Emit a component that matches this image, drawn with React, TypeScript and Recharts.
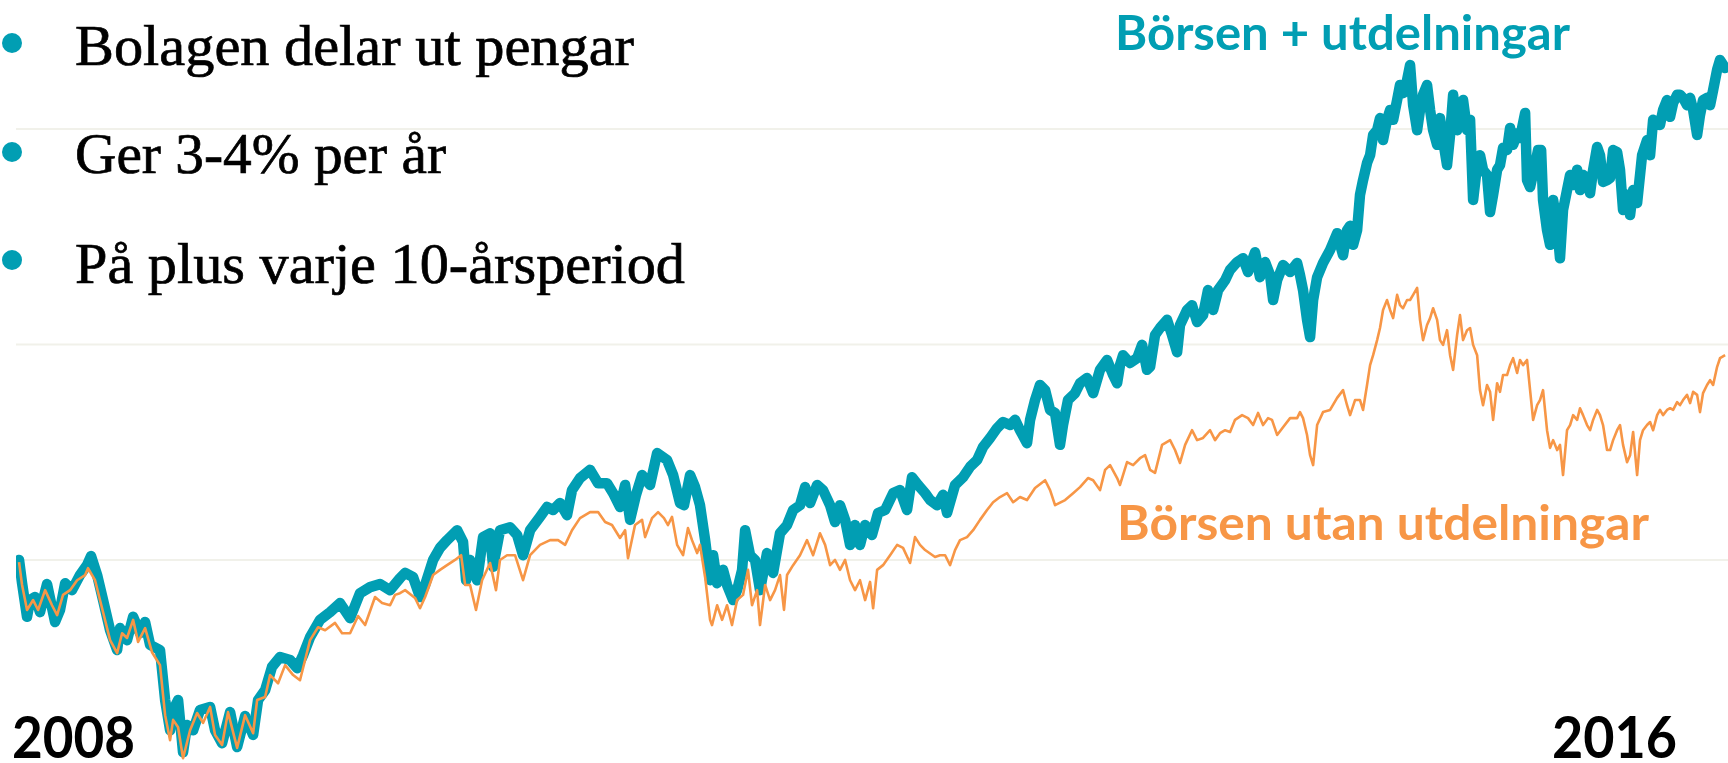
import { LineChart, Line, XAxis, YAxis, CartesianGrid } from "recharts";

// x: months since Jan 2008, y: index (start = 100)
const tealMonths = [
  0, 0.19, 0.5, 0.69, 1, 1.31, 1.75, 2.25, 2.56, 2.88, 3.31, 3.81, 4.25, 4.5, 4.88, 5.25, 5.69, 6.13, 6.31, 6.75,
  7.13, 7.56, 7.88, 8.19, 8.81, 9.13, 9.44, 9.63, 9.94, 10.25, 10.5, 10.88, 11.31, 11.94, 12.25, 12.69, 13.19, 13.63,
  14.13, 14.63, 14.94, 15.38, 15.81, 16.31, 16.94, 17.38, 17.75, 18.19, 18.81, 19.44, 20.06, 20.69, 21.31, 21.94,
  22.56, 23.19, 23.81, 24.13, 24.63, 25.06, 25.38, 25.88, 26.31, 26.75, 27.38, 27.75, 27.94, 28.19, 28.63, 29.0,
  29.44, 29.63, 30.06, 30.69, 31.13, 31.5, 31.94, 32.56, 33.0, 33.38, 33.81, 34.25, 34.56, 35.06, 35.69, 36.19,
  36.75, 37.13, 37.56, 37.88, 38.19, 38.56, 38.94, 39.44, 39.88, 40.5, 40.88, 41.31, 41.56, 41.94, 42.25, 42.56,
  42.88, 43.19, 43.38, 43.63, 44.0, 44.25, 44.63, 44.88, 45.19, 45.38, 45.69, 46.0, 46.31, 46.75, 47.13, 47.56,
  48.0, 48.38, 48.81, 49.13, 49.44, 49.88, 50.25, 50.69, 51.0, 51.31, 51.63, 51.94, 52.25, 52.56, 52.88, 53.31,
  53.69, 54.13, 54.63, 55.06, 55.5, 55.81, 56.19, 56.63, 56.94, 57.38, 57.75, 58.0, 58.5, 59.0, 59.44, 59.88,
  60.25, 60.69, 61.13, 61.5, 61.94, 62.25, 62.56, 63.0, 63.19, 63.5, 63.81, 64.13, 64.44, 64.75, 65.06, 65.25,
  65.56, 66.0, 66.31, 66.75, 67.13, 67.56, 68.0, 68.38, 68.63, 68.81, 69.0, 69.44, 69.88, 70.19, 70.5, 70.69,
  71.0, 71.31, 71.75, 72.06, 72.38, 72.56, 73.0, 73.31, 73.63, 74.0, 74.31, 74.63, 74.94, 75.38, 75.69, 76.13,
  76.5, 76.81, 77.25, 77.56, 77.88, 78.19, 78.38, 78.63, 79.0, 79.44, 79.88, 80.06, 80.25, 80.5, 80.69, 80.88,
  81.13, 81.5, 81.94, 82.38, 82.75, 83.0, 83.19, 83.38, 83.63, 83.81, 84.0, 84.25, 84.44, 84.63, 84.88, 85.06,
  85.25, 85.5, 85.69, 85.88, 86.13, 86.31, 86.5, 86.75, 86.94, 87.13, 87.38, 87.56, 87.75, 88.0, 88.19, 88.38,
  88.63, 88.81, 89.0, 89.25, 89.44, 89.63, 89.88, 90.06, 90.25, 90.5, 90.69, 90.88, 91.13, 91.31, 91.5, 91.75,
  91.94, 92.13, 92.38, 92.56, 92.75, 93.0, 93.19, 93.38, 93.63, 93.81, 94.13, 94.25, 94.44, 94.75, 94.94, 95.13,
  95.25, 95.5, 95.69, 95.88, 96.13, 96.31, 96.5, 96.75, 96.94, 97.13, 97.38, 97.56, 97.75, 98.0, 98.19, 98.38,
  98.63, 98.81, 99.0, 99.25, 99.44, 99.63, 99.88, 100.06, 100.25, 100.5, 100.69, 100.88, 101.13, 101.44, 101.75,
  101.94, 102.13, 102.38, 102.56, 102.75, 103.0, 103.19, 103.38, 103.63, 103.81, 104.0, 104.25, 104.44, 104.63,
  104.88, 105.06, 105.25, 105.5, 105.69, 105.88, 106.13, 106.31, 106.63,
];

const tealValues = [
  100.0, 94.6, 86.8, 90.7, 91.4, 87.9, 94.4, 85.6, 88.4, 94.6, 93.0, 96.5, 98.8, 100.9, 96.5, 90.7, 83.7, 79.1, 84.2, 81.4,
  86.8, 83.0, 85.6, 80.3, 79.1, 67.5, 60.5, 65.2, 67.5, 55.4, 61.7, 60.5, 65.2, 65.9, 60.5, 57.5, 64.7, 56.6,
  63.8, 59.4, 67.5, 69.8, 75.2, 77.5, 76.8, 74.9, 77.9, 82.1, 86.1, 87.9, 90.0, 86.5, 92.3, 93.7,
  94.4, 93.0, 95.8, 97.0, 96.0, 91.4, 94.2, 100.0, 102.8, 104.6, 106.9, 104.2, 95.3, 100.0, 95.3, 105.3,
  106.2, 98.4, 106.9, 107.6, 105.8, 101.1, 106.9, 110.0, 112.3, 111.6, 113.2, 110.4, 116.2, 119.0, 120.9, 117.8,
  117.8, 115.5, 112.3, 117.4, 109.3, 115.1, 119.7, 117.4, 124.8, 123.2, 119.7, 113.2, 112.7, 119.7, 116.9, 112.7,
  104.6, 95.3, 101.1, 94.6, 97.7, 94.2, 90.7, 93.0, 97.7, 106.9, 101.1, 100.0, 93.0, 101.6, 97.0, 106.2,
  108.1, 111.6, 112.7, 116.9, 113.2, 117.4, 116.2, 112.7, 108.8, 112.7, 109.3, 103.5, 108.1, 103.5, 108.1, 105.8,
  110.9, 111.6, 115.5, 116.2, 111.6, 119.2, 117.4, 115.5, 113.9, 112.7, 115.1, 110.9, 117.4, 119.2, 121.6, 123.2,
  126.2, 128.3, 130.6, 132.0, 131.3, 132.5, 130.1, 127.1, 132.5, 137.1, 140.6, 139.4, 134.8, 134.1, 126.7, 131.3,
  137.1, 138.7, 141.0, 142.2, 138.7, 144.1, 146.4, 142.9, 141.0, 145.2, 147.5, 145.7, 146.8, 149.9, 144.1, 144.8,
  152.2, 153.8, 155.7, 152.2, 148.2, 154.5, 158.0, 159.1, 155.2, 156.8, 162.6, 158.0, 162.6, 164.9, 167.3, 169.1,
  170.0, 166.8, 171.4, 165.6, 169.1, 166.1, 160.3, 164.9, 168.4, 166.8, 168.9, 166.1, 162.6, 155.7, 151.7, 160.3,
  165.6, 168.9, 171.9, 175.8, 170.7, 176.5, 177.5, 173.1, 176.5, 184.7, 188.1, 192.1, 193.9, 198.6, 199.7, 202.5,
  197.4, 202.1, 204.4, 202.1, 206.7, 210.2, 208.3, 211.3, 214.8, 205.5, 199.7, 204.4, 207.9, 210.2, 204.4, 199.7,
  196.3, 202.5, 197.4, 191.6, 198.6, 207.9, 199.7, 203.2, 206.7, 199.7, 202.1, 183.5, 191.6, 193.9, 190.5, 189.3,
  180.7, 184.7, 190.5, 191.6, 195.6, 195.1, 200.2, 196.3, 199.0, 197.9, 203.7, 188.1, 186.5, 191.6, 195.1, 195.1,
  183.5, 176.5, 173.1, 183.5, 177.7, 170.0, 181.2, 185.8, 189.3, 187.0, 190.5, 185.8, 189.3, 188.6, 185.1, 190.5,
  195.8, 193.9, 187.7, 188.1, 188.6, 195.1, 194.6, 190.5, 181.2, 184.7, 180.0, 185.8, 182.8, 193.9, 197.4,
  193.9, 202.1, 201.6, 200.9, 204.4, 206.7, 202.8, 206.0, 207.9, 207.9, 207.2, 205.5, 207.2, 204.4,
  198.6, 203.2, 206.7, 207.2, 205.5, 209.0, 213.7, 216.0, 214.1,
];

const orangeMonths = [
  0, 0.19, 0.5, 0.88, 1.19, 1.63, 2.06, 2.38, 2.75, 3.19, 3.63, 4.13, 4.31, 4.75, 5.06, 5.69, 6.13, 6.44, 6.75, 7.13,
  7.44, 7.88, 8.31, 8.81, 9.13, 9.44, 9.63, 9.94, 10.25, 10.69, 11.13, 11.5, 11.94, 12.25, 12.69, 13.06, 13.63,
  14.13, 14.63, 14.88, 15.38, 15.69, 16.19, 16.63, 17.13, 17.56, 18.19, 18.69, 19.13, 19.75, 20.19, 20.69, 21.19,
  21.63, 22.25, 22.69, 23.19, 23.5, 23.81, 24.13, 24.75, 25.06, 25.38, 25.88, 26.31, 26.75, 27.25, 27.63, 27.88,
  28.19, 28.56, 28.94, 29.44, 29.81, 30.06, 30.5, 31.0, 31.5, 31.94, 32.56, 33.19, 33.69, 34.13, 34.56, 35.06,
  35.69, 36.19, 36.63, 37.06, 37.56, 37.88, 38.06, 38.5, 38.94, 39.13, 39.56, 39.94, 40.31, 40.56, 40.81, 41.13,
  41.5, 41.81, 42.06, 42.38, 42.56, 42.88, 43.19, 43.31, 43.63, 43.94, 44.25, 44.56, 44.88, 45.25, 45.56, 45.81,
  46.13, 46.31, 46.63, 46.94, 47.25, 47.56, 47.81, 48.0, 48.38, 48.81, 49.25, 49.63, 50.06, 50.38, 50.69, 51.0,
  51.31, 51.63, 51.94, 52.25, 52.56, 52.88, 53.19, 53.38, 53.63, 54.0, 54.44, 54.88, 55.25, 55.69, 56.0, 56.31,
  56.63, 57.25, 57.56, 57.88, 58.19, 58.5, 58.81, 59.25, 59.63, 60.06, 60.5, 60.88, 61.31, 61.75, 62.13, 62.56,
  63.0, 63.5, 64.13, 64.44, 64.75, 65.38, 65.88, 66.31, 66.81, 67.13, 67.56, 67.88, 68.19, 68.63, 68.81, 69.25,
  69.63, 70.06, 70.38, 70.69, 71.0, 71.44, 71.94, 72.25, 72.56, 72.88, 73.31, 73.63, 74.0, 74.44, 74.75, 75.06,
  75.38, 75.69, 76.0, 76.44, 76.81, 77.13, 77.44, 77.75, 78.06, 78.31, 78.63, 79.0, 79.44, 79.88, 80.06, 80.25,
  80.5, 80.69, 80.88, 81.13, 81.5, 81.94, 82.38, 82.75, 83.0, 83.19, 83.5, 83.81, 84.0, 84.25, 84.44, 84.63,
  84.88, 85.06, 85.25, 85.5, 85.69, 85.88, 86.13, 86.31, 86.5, 86.75, 86.94, 87.13, 87.38, 87.56, 87.75, 88.0,
  88.19, 88.38, 88.63, 88.81, 89.0, 89.25, 89.44, 89.63, 89.88, 90.06, 90.25, 90.5, 90.69, 90.88, 91.13, 91.31,
  91.5, 91.75, 91.94, 92.13, 92.38, 92.56, 92.75, 93.0, 93.19, 93.38, 93.63, 93.81, 94.0, 94.25, 94.44, 94.63,
  94.88, 95.06, 95.25, 95.5, 95.69, 95.88, 96.13, 96.31, 96.5, 96.75, 96.94, 97.13, 97.38, 97.56, 97.75, 98.0,
  98.19, 98.38, 98.63, 98.81, 99.0, 99.25, 99.44, 99.63, 99.88, 100.06, 100.25, 100.5, 100.69, 100.88, 101.13,
  101.31, 101.5, 101.75, 101.94, 102.13, 102.38, 102.56, 102.75, 103.0, 103.19, 103.38, 103.63, 103.81, 104.0,
  104.25, 104.44, 104.63, 104.88, 105.06, 105.25, 105.5, 105.69, 105.88, 106.13, 106.31, 106.63,
];

const orangeValues = [
  99.5, 94.2, 88.4, 90.7, 88.4, 93.0, 89.5, 87.2, 91.9, 93.0, 95.3, 96.5, 98.1, 95.3, 90.7, 81.4, 78.4, 83.0, 81.9, 86.1,
  81.0, 84.2, 78.6, 75.6, 64.0, 58.2, 62.9, 61.2, 54.0, 60.5, 64.5, 62.2, 65.9, 59.4, 57.1, 64.7, 56.4,
  64.0, 59.8, 67.5, 68.2, 73.3, 71.4, 75.6, 73.3, 72.1, 81.4, 84.4, 83.7, 85.4, 83.0, 83.0, 87.0,
  84.9, 91.4, 90.0, 89.5, 91.9, 92.3, 93.0, 91.2, 88.8, 91.4, 96.5, 97.7, 98.8, 100.0, 101.1, 94.2,
  94.2, 88.4, 95.3, 99.3, 93.0, 100.0, 101.1, 101.1, 95.3, 101.1, 103.5, 104.6, 104.6, 103.5, 106.9, 109.7,
  111.1, 111.1, 108.8, 108.1, 105.1, 106.9, 100.4, 108.1, 109.3, 105.3, 109.7, 111.1, 109.7, 108.1, 110.0, 103.5,
  101.1, 107.4, 104.6, 101.6, 103.5, 96.0, 86.1, 84.9, 89.5, 86.1, 89.5, 84.9, 90.7, 91.9, 97.7, 89.5,
  93.0, 84.9, 94.2, 90.7, 93.0, 96.5, 88.4, 96.5, 98.8, 101.1, 104.6, 101.1, 106.2, 103.5, 98.8, 100.0,
  97.7, 100.0, 95.3, 93.0, 95.3, 90.7, 94.9, 88.8, 97.7, 98.8, 101.1, 103.5, 102.8, 99.3, 105.3, 103.5,
  102.3, 100.7, 101.1, 101.1, 98.8, 102.3, 104.6, 105.3, 106.9, 109.3, 111.6, 113.4, 114.6, 115.5, 113.4, 114.6,
  113.9, 116.7, 118.5, 116.2, 112.7, 113.9, 115.5, 116.9, 119.0, 118.5, 116.2, 120.9, 122.0, 119.0, 117.4, 122.7,
  122.0, 123.6, 124.3, 120.9, 120.2, 126.7, 127.8, 125.5, 122.5, 126.7, 130.1, 127.8, 128.3, 130.1, 127.8, 129.4,
  130.1, 129.7, 132.5, 133.6, 132.9, 131.3, 134.1, 131.3, 132.9, 132.5, 129.0, 130.8, 132.9, 132.9, 134.3, 132.9,
  129.0, 124.3, 122.0, 131.3, 134.3, 134.8, 137.6, 139.4, 135.9, 133.6, 137.1, 137.1, 134.8, 140.6, 145.2, 147.5,
  151.0, 153.8, 158.0, 160.3, 158.0, 156.1, 161.5, 159.1, 158.4, 160.3, 160.3, 161.5, 163.1, 155.7, 151.0, 154.5,
  156.1, 158.4, 155.7, 151.0, 149.9, 153.3, 147.5, 144.1, 152.2, 156.8, 151.0, 153.3, 153.8, 149.9, 147.5, 139.4,
  135.9, 140.6, 139.0, 132.5, 141.0, 139.0, 142.9, 142.9, 145.2, 146.8, 143.4, 146.4, 145.2, 146.4, 139.4, 132.5,
  135.9, 137.1, 139.4, 130.1, 126.0, 127.8, 125.5, 126.7, 119.7, 130.1, 131.3, 133.6, 132.5, 135.2, 133.6, 131.3,
  130.1, 132.5, 134.8, 133.6, 131.3, 125.5, 125.5, 127.8, 130.1, 131.3, 126.7, 122.7, 124.3, 129.7, 119.7,
  127.8, 130.1, 131.3, 132.0, 130.1, 133.6, 134.8, 133.6, 134.8, 135.2, 134.8, 136.6, 135.9, 137.1,
  138.3, 136.4, 139.0, 138.3, 134.3, 138.7, 140.6, 141.7, 140.6, 144.8, 146.8, 147.5,
];

const gridValues = [100, 150, 200];
const bullets = ["Bolagen delar ut pengar", "Ger 3-4% per år", "På plus varje 10-årsperiod"];
const yearLabels = ["2008", "2016"];
const seriesNames = ["Börsen + utdelningar", "Börsen utan utdelningar"];

const TEAL = "#019eb3";
const ORANGE = "#f79646";

const tealData = tealMonths.map((m, i) => ({ m, v: tealValues[i] }));
const orangeData = orangeMonths.map((m, i) => ({ m, v: orangeValues[i] }));

export default function App() {
  return (
    <div
      style={{
        position: "absolute",
        left: 0,
        top: 0,
        width: 1728,
        height: 763,
        background: "#fff",
        overflow: "hidden",
      }}
    >
      <LineChart width={1728} height={763} margin={{ top: 0, right: 0, bottom: 0, left: 16 }}>
        <CartesianGrid vertical={false} horizontalValues={gridValues} stroke="#f1f1ea" strokeWidth={2} />
        <XAxis type="number" dataKey="m" domain={[-0.19, 106.81]} allowDataOverflow hide />
        <YAxis type="number" domain={[52.9, 229.9]} ticks={gridValues} allowDataOverflow hide />
        <Line
          data={tealData}
          dataKey="v"
          type="linear"
          stroke={TEAL}
          strokeWidth={10.5}
          strokeLinejoin="round"
          strokeLinecap="round"
          dot={false}
          activeDot={false}
          isAnimationActive={false}
        />
        <Line
          data={orangeData}
          dataKey="v"
          type="linear"
          stroke={ORANGE}
          strokeWidth={2.6}
          strokeLinejoin="round"
          dot={false}
          activeDot={false}
          isAnimationActive={false}
        />
      </LineChart>

      <svg width={1728} height={763} style={{ position: "absolute", left: 0, top: 0 }}>
        {[43, 152, 260].map((cy) => (
          <circle key={cy} cx={12} cy={cy} r={10} fill={TEAL} />
        ))}
        <g
          fontFamily="'Liberation Serif', 'Times New Roman', serif"
          fontSize={56}
          fill="#000"
          stroke="#000"
          strokeWidth={0.7}
        >
          <text x={75} y={65} textLength={559} lengthAdjust="spacingAndGlyphs">{bullets[0]}</text>
          <text x={75} y={173} textLength={371} lengthAdjust="spacingAndGlyphs">{bullets[1]}</text>
          <text x={75} y={283} textLength={610} lengthAdjust="spacingAndGlyphs">{bullets[2]}</text>
        </g>
        <g fontFamily="Lato, 'Open Sans', sans-serif" fontWeight={700}>
          <text x={1115} y={50} fontSize={48} fill={TEAL} textLength={455} lengthAdjust="spacingAndGlyphs">
            {seriesNames[0]}
          </text>
          <text x={1117} y={540} fontSize={48} fill={ORANGE} textLength={532} lengthAdjust="spacingAndGlyphs">
            {seriesNames[1]}
          </text>
          <text x={12} y={758} fontSize={57} fill="#000" textLength={123} lengthAdjust="spacingAndGlyphs">
            {yearLabels[0]}
          </text>
          <text x={1552} y={758} fontSize={57} fill="#000" textLength={125} lengthAdjust="spacingAndGlyphs">
            {yearLabels[1]}
          </text>
        </g>
      </svg>
    </div>
  );
}
